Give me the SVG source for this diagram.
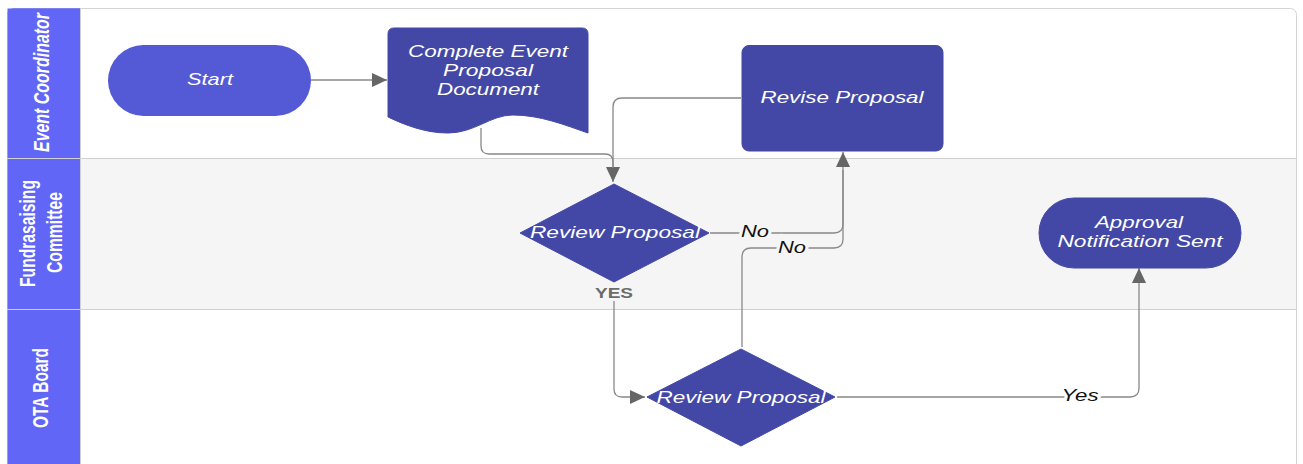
<svg xmlns="http://www.w3.org/2000/svg" width="1303" height="464" viewBox="0 0 1303 464">
<defs>
<style>
.lbl{font-family:"Liberation Sans",Arial,sans-serif;font-style:italic;font-size:17px;fill:#ffffff;text-anchor:middle}
.hdr{font-family:"Liberation Sans",Arial,sans-serif;font-weight:bold;font-size:15.5px;fill:#ffffff;text-anchor:middle}
.shape{fill:#4348a6;stroke:#4348a6;stroke-width:1}
.conn{fill:none;stroke:#888888;stroke-width:1.3}
.clbl{font-family:"Liberation Sans",Arial,sans-serif;font-style:italic;font-size:17px;fill:#111111;text-anchor:middle;paint-order:stroke;stroke-width:5px}
</style>
<marker id="arr" markerUnits="userSpaceOnUse" markerWidth="16" markerHeight="14" viewBox="0 0 16 14" refX="15" refY="7" orient="auto">
<path d="M0,0 L15,7 L0,14 Z" fill="#666666"/>
</marker>
</defs>
<!-- lanes -->
<g id="lanes">
<rect x="7.5" y="8.5" width="1289" height="480" rx="6" fill="#ffffff" stroke="#d4d4d4"/>
<rect x="80" y="159" width="1216" height="150" fill="#f5f5f5"/>
<path d="M7.5,8.5 H80 V464 H7.5 Z" fill="#6166f6"/>
<path d="M13.5,8.5 H80 V14 H7.5 V14.5 A6,6 0 0 1 13.5,8.5 Z" fill="#6166f6"/>
<line x1="7" y1="158.5" x2="1296" y2="158.5" stroke="#d0d0d0"/>
<line x1="7" y1="309.5" x2="1296" y2="309.5" stroke="#d0d0d0"/>
<line x1="80.5" y1="8" x2="80.5" y2="464" stroke="#d0d0d0"/>
<text class="hdr" font-style="italic" textLength="139" lengthAdjust="spacingAndGlyphs" transform="translate(48.5,82.5) rotate(-90) scale(1,1.4)">Event Coordinator</text>
<text class="hdr" textLength="107" lengthAdjust="spacingAndGlyphs" transform="translate(35,233.5) rotate(-90) scale(1,1.4)">Fundrasaising</text>
<text class="hdr" textLength="81" lengthAdjust="spacingAndGlyphs" transform="translate(61.5,232.5) rotate(-90) scale(1,1.4)">Committee</text>
<text class="hdr" textLength="80" lengthAdjust="spacingAndGlyphs" transform="translate(47.5,388) rotate(-90) scale(1,1.4)">OTA Board</text>
</g>
<!-- connectors -->
<g id="connectors">
<path class="conn" d="M311,80 H387" marker-end="url(#arr)"/>
<path class="conn" d="M481,128 V146 Q481,154 489,154 H605 Q613,154 613,162 V182" marker-end="url(#arr)"/>
<path class="conn" d="M741,98 H622 Q613,98 613,107 V168"/>
<path class="conn" d="M710,233 H834 Q843,233 843,224 V152" marker-end="url(#arr)"/>
<path class="conn" d="M742,347 V257 Q742,248 751,248 H834 Q843,248 843,239 V170"/>
<path class="conn" d="M614,301 V389 Q614,397 622,397 H645" marker-end="url(#arr)"/>
<path class="conn" d="M837,397 H1130 Q1139,397 1139,388 V268" marker-end="url(#arr)"/>
<text class="clbl" x="755" y="237" stroke="#f5f5f5" textLength="28" lengthAdjust="spacingAndGlyphs">No</text>
<text class="clbl" x="792" y="253" stroke="#f5f5f5" textLength="28" lengthAdjust="spacingAndGlyphs">No</text>
<text class="clbl" x="1080" y="401" stroke="#ffffff" textLength="37" lengthAdjust="spacingAndGlyphs">Yes</text>
<text x="614" y="298" font-family="Liberation Sans, Arial, sans-serif" font-weight="bold" font-size="14" fill="#6b6b6b" text-anchor="middle" textLength="38" lengthAdjust="spacingAndGlyphs">YES</text>
</g>
<!-- nodes -->
<g id="start">
<rect x="108" y="45" width="203" height="71" rx="35.5" fill="#5459d5"/>
<text class="lbl" x="210" y="85" textLength="46" lengthAdjust="spacingAndGlyphs">Start</text>
</g>
<g id="complete-doc">
<path class="shape" d="M394,28 H582 Q588,28 588,34 V133 C565,125 540,115 513,115 C490,115 475,133 448,133 C425,133 405,125 388,117 V34 Q388,28 394,28 Z"/>
<text class="lbl" x="488" y="57" textLength="160" lengthAdjust="spacingAndGlyphs">Complete Event</text>
<text class="lbl" x="488" y="76" textLength="90" lengthAdjust="spacingAndGlyphs">Proposal</text>
<text class="lbl" x="488" y="95" textLength="102" lengthAdjust="spacingAndGlyphs">Document</text>
</g>
<g id="revise">
<rect class="shape" x="742" y="45.5" width="201" height="105.5" rx="7"/>
<text class="lbl" x="842" y="103" textLength="163" lengthAdjust="spacingAndGlyphs">Revise Proposal</text>
</g>
<g id="review-committee">
<path class="shape" d="M520,233 L614,184 L709,233 L614,282 Z" stroke-width="4" stroke-linejoin="round"/>
<text class="lbl" x="615" y="238" textLength="170" lengthAdjust="spacingAndGlyphs">Review Proposal</text>
</g>
<g id="review-board">
<path class="shape" d="M647,397 L741,349 L835,397 L741,446 Z" stroke-width="4" stroke-linejoin="round"/>
<text class="lbl" x="741" y="403" textLength="169" lengthAdjust="spacingAndGlyphs">Review Proposal</text>
</g>
<g id="approval">
<rect class="shape" x="1039" y="198" width="202" height="70" rx="35"/>
<text class="lbl" x="1139" y="228" textLength="88" lengthAdjust="spacingAndGlyphs">Approval</text>
<text class="lbl" x="1140" y="247" textLength="165" lengthAdjust="spacingAndGlyphs">Notification Sent</text>
</g>
</svg>
